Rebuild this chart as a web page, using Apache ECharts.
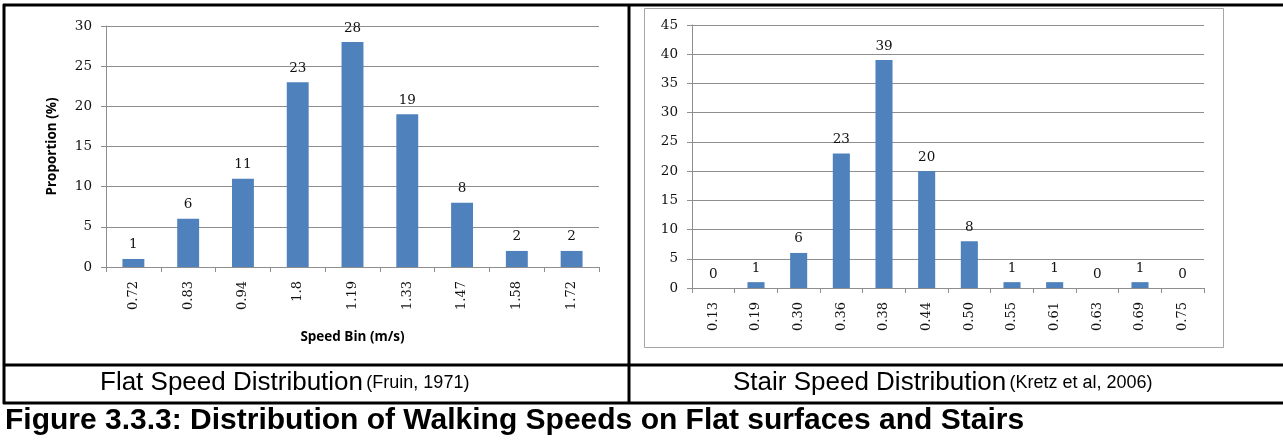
<!DOCTYPE html>
<html>
<head>
<meta charset="utf-8">
<script src="https://cdn.jsdelivr.net/npm/echarts@6/dist/echarts.min.js"></script>
<style>
  html, body { margin: 0; padding: 0; background: #fff; }
  #main { width: 1283px; height: 441px; }
</style>
</head>
<body>
<div id="main"></div>
<script>
// flat surface bins (Fruin, 1971)
var flatBins = ['0.72', '0.83', '0.94', '1.8', '1.19', '1.33', '1.47', '1.58', '1.72'];
var flatValues = [1, 6, 11, 23, 28, 19, 8, 2, 2];
// stair bins (Kretz et al, 2006)
var stairBins = ['0.13', '0.19', '0.30', '0.36', '0.38', '0.44', '0.50', '0.55', '0.61', '0.63', '0.69', '0.75'];
var stairValues = [0, 1, 6, 23, 39, 20, 8, 1, 1, 0, 1, 0];
// value axis ranges [min, max, step]
var flatAxis = [0, 30, 5];
var stairAxis = [0, 45, 5];

var numFont = 'DejaVu Serif';
var gridGrey = '#8e8e8e';
var barBlue = '#4f81bd';

function valueAxis(idx, range, name) {
	return {
		type: 'value',
		gridIndex: idx,
		min: range[0],
		max: range[1],
		interval: range[2],
		name: name,
		nameLocation: 'middle',
		nameGap: 47,
		nameTextStyle: { fontFamily: 'Open Sans', fontWeight: 'bold', fontSize: 13.5, color: '#000' },
		axisLine: { show: true, lineStyle: { color: gridGrey } },
		axisTick: { show: true, length: 5, lineStyle: { color: gridGrey } },
		axisLabel: { fontFamily: numFont, fontSize: 13.5, color: '#111', margin: 14 },
		splitLine: { lineStyle: { color: gridGrey } }
	};
}

function catAxis(idx, data, name) {
	return {
		type: 'category',
		gridIndex: idx,
		data: data,
		name: name,
		nameLocation: 'middle',
		nameGap: 63,
		nameTextStyle: { fontFamily: 'Open Sans', fontWeight: 'bold', fontSize: 13.5, color: '#000' },
		axisLine: { lineStyle: { color: gridGrey } },
		axisTick: { show: true, alignWithLabel: false, length: 5, lineStyle: { color: gridGrey } },
		axisLabel: { rotate: 90, interval: 0, fontFamily: numFont, fontSize: 13, color: '#111', margin: 14 }
	};
}

function barSeries(idx, values) {
	return {
		type: 'bar',
		xAxisIndex: idx,
		yAxisIndex: idx,
		data: values,
		barWidth: '40%',
		itemStyle: { color: barBlue },
		label: { show: true, position: 'top', distance: 7, fontFamily: numFont, fontSize: 13.5, color: '#111' }
	};
}

function hline(y, x1, x2, w) {
	return { type: 'line', shape: { x1: x1, y1: y, x2: x2, y2: y }, style: { stroke: '#000', lineWidth: w } };
}
function vline(x, y1, y2, w) {
	return { type: 'line', shape: { x1: x, y1: y1, x2: x, y2: y2 }, style: { stroke: '#000', lineWidth: w } };
}

var myChart = echarts.init(document.getElementById('main'));
var option = {
	animation: false,
	backgroundColor: '#fff',
	grid: [
		{ left: 106, right: 684, top: 26, bottom: 174 },
		{ left: 692, right: 79, top: 25, bottom: 153 }
	],
	xAxis: [catAxis(0, flatBins, 'Speed Bin (m/s)'), catAxis(1, stairBins, '')],
	yAxis: [valueAxis(0, flatAxis, 'Proportion (%)'), valueAxis(1, stairAxis, '')],
	series: [barSeries(0, flatValues), barSeries(1, stairValues)],
	graphic: [
		// grey frame of the stair chart
		{ type: 'rect', shape: { x: 644.5, y: 8.5, width: 579, height: 339 }, style: { fill: null, stroke: '#a6a6a6', lineWidth: 1 } },
		// table lines
		hline(5, 3, 1283, 3),
		hline(365, 3, 1283, 3),
		hline(403, 3, 1283, 3),
		vline(4, 4, 404, 3),
		vline(629, 4, 404, 3),
		// captions
		{
			type: 'text', left: 100, top: 370,
			style: {
				text: '{a|Flat Speed Distribution} {b|(Fruin, 1971)}',
				rich: {
					a: { fontFamily: 'Liberation Sans', fontSize: 26, fill: '#000' },
					b: { fontFamily: 'Liberation Sans', fontSize: 18, fill: '#000' }
				}
			}
		},
		{
			type: 'text', left: 733, top: 370,
			style: {
				text: '{a|Stair Speed Distribution} {b|(Kretz et al, 2006)}',
				rich: {
					a: { fontFamily: 'Liberation Sans', fontSize: 26, fill: '#000' },
					b: { fontFamily: 'Liberation Sans', fontSize: 18, fill: '#000' }
				}
			}
		},
		{
			type: 'text', left: 5, top: 406,
			style: {
				text: 'Figure 3.3.3: Distribution of Walking Speeds on Flat surfaces and Stairs',
				fontFamily: 'Liberation Sans', fontWeight: 'bold', fontSize: 30, fill: '#000'
			}
		}
	]
};
myChart.setOption(option);
</script>
</body>
</html>
